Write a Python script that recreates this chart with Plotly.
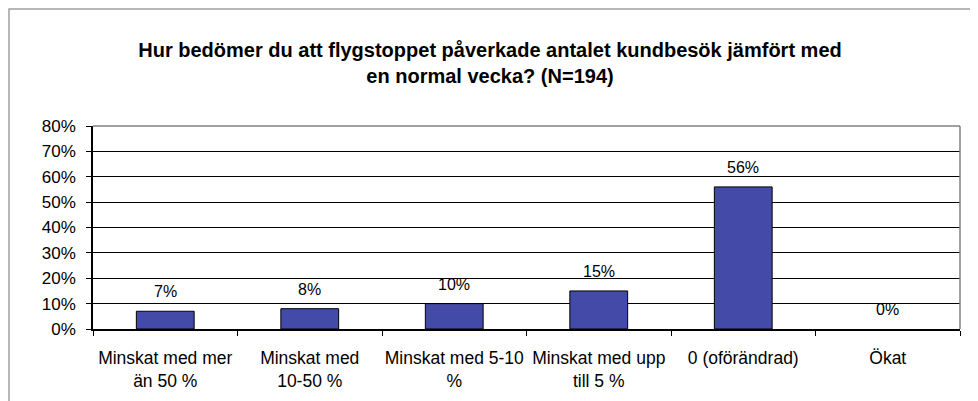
import plotly.graph_objects as go

categories = ["Minskat med mer<br>än 50 %", "Minskat med<br>10-50 %", "Minskat med 5-10<br>%",
              "Minskat med upp<br>till 5 %", "0 (oförändrad)", "Ökat"]
values = [7, 8, 10, 15, 56, 0]
labels = ["7%", "8%", "10%", "15%", "56%", "0%"]
y_ticks = [0, 10, 20, 30, 40, 50, 60, 70, 80]
y_tick_labels = [f"{v}%" for v in y_ticks]
title = "Hur bedömer du att flygstoppet påverkade antalet kundbesök jämfört med<br>en normal vecka? (N=194)"

FONT = "Liberation Sans, Arial, sans-serif"
# page has an 8px body margin, so the figure is offset by 8px
W, H = 970, 393
L, R, T, B = 85, 18, 118, 72
pw = W - L - R
ph = H - T - B

fig = go.Figure(go.Bar(
    x=categories, y=values,
    marker=dict(color="#434AA8",
                line=dict(color="black", width=[1 if v > 0 else 0 for v in values])),
    cliponaxis=False,
))

for c, v, t in zip(categories, values, labels):
    fig.add_annotation(x=c, y=v, text=t, showarrow=False, xanchor="center",
                       yanchor="bottom", yshift=9,
                       font=dict(family=FONT, size=16, color="black"))

# outer chart border (gray)
fig.add_shape(type="rect", xref="paper", yref="paper",
              x0=(1 - L) / pw, x1=(W + 20 - L) / pw,
              y0=-(B + 20) / ph, y1=1 + (T - 1) / ph,
              line=dict(color="#A0A0A0", width=1.5), fillcolor="rgba(0,0,0,0)", layer="below")
# plot area top and right border (gray)
fig.add_shape(type="line", xref="paper", yref="paper", x0=0, x1=1, y0=1, y1=1,
              line=dict(color="#808080", width=1.5))
fig.add_shape(type="line", xref="paper", yref="paper", x0=1, x1=1, y0=0, y1=1,
              line=dict(color="#808080", width=1.5))

fig.update_layout(
    width=W, height=H,
    margin=dict(l=L, r=R, t=T, b=B, autoexpand=False),
    paper_bgcolor="white", plot_bgcolor="white",
    showlegend=False,
    bargap=0.6,
    title=dict(text=title, x=(490 - 8) / W, xref="container", xanchor="center",
               y=1 - 49 / H, yanchor="middle",
               font=dict(family=FONT, size=20, color="black", weight="bold",
                         lineposition="none")),
    font=dict(family=FONT, size=17, color="black"),
    xaxis=dict(showline=True, linecolor="black", linewidth=1.5,
               ticks="outside", ticklen=5, tickcolor="black", tickson="boundaries",
               tickfont=dict(family=FONT, size=17.5, color="black"),
               tickangle=0, automargin=False,
               ticklabelstandoff=12,
               showgrid=False),
    yaxis=dict(range=[0, 80], tickvals=y_ticks, ticktext=y_tick_labels,
               showline=True, linecolor="black", linewidth=1.5,
               ticks="outside", ticklen=5, tickcolor="black",
               showgrid=True, gridcolor="black", gridwidth=1,
               tickfont=dict(family=FONT, size=17, color="black"),
               ticklabelstandoff=7, automargin=False,
               zeroline=False),
)

fig.write_html("out.html")
